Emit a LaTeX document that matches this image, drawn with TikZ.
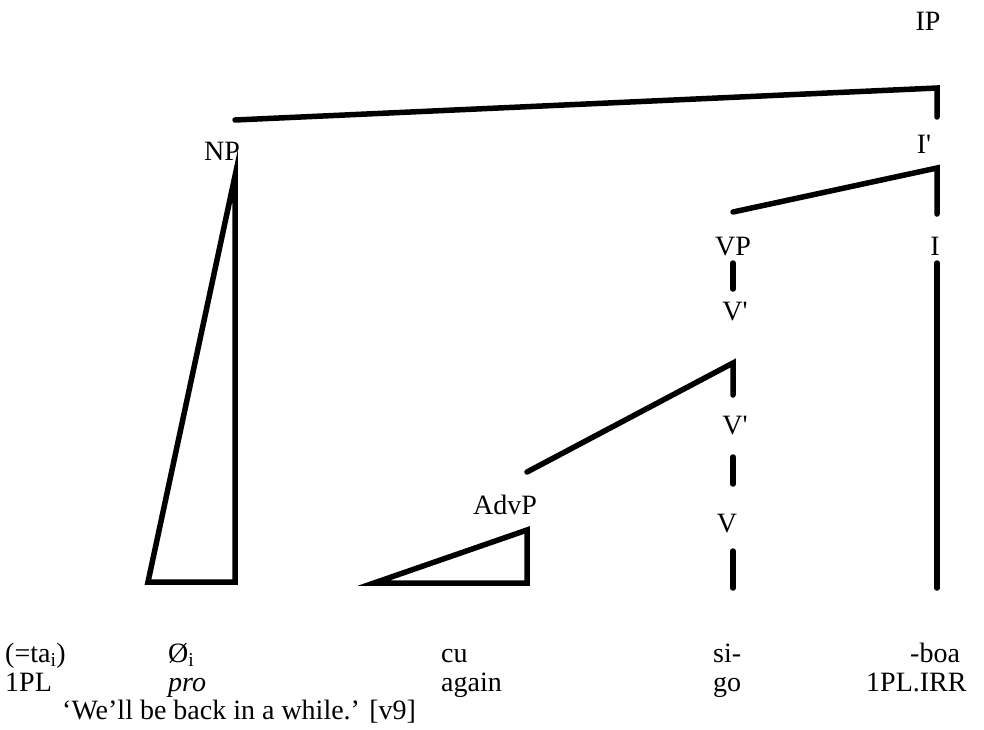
\documentclass[tikz,border=0pt]{standalone}
\usepackage{fontspec}
\setmainfont{Liberation Serif}
\begin{document}
\begin{tikzpicture}[x=1pt, y=-1pt, font=\fontsize{28}{30}\selectfont,
  branch/.style={line width=5.5pt, line cap=round, line join=miter},
  lbl/.style={anchor=base, inner sep=0pt},
  gloss/.style={anchor=base west, inner sep=0pt}]
  \useasboundingbox (0,0) rectangle (984,729);
  % category labels
  \node[lbl] (ip) at (928,30) {IP};
  \node[lbl] (ibar) at (924,153) {I\textquotesingle};
  \node[lbl] (np) at (222,160) {NP};
  \node[lbl] (vp) at (733,255) {VP};
  \node[lbl] (i) at (935,255) {I};
  \node[lbl] (vbar1) at (735,320) {V\textquotesingle};
  \node[lbl] (vbar2) at (735,434) {V\textquotesingle};
  \node[lbl] (v) at (727,532) {V};
  \node[lbl] (advp) at (505,514) {AdvP};
  % branch ends
  \coordinate (ip-top) at (937,88);
  \coordinate (ip-np) at (235,120);
  \coordinate (ip-ibar) at (937,117);
  \coordinate (ibar-top) at (937,168);
  \coordinate (ibar-vp) at (733,212);
  \coordinate (ibar-i) at (937,214);
  \coordinate (i-top) at (937,263);
  \coordinate (i-bot) at (937,588);
  \coordinate (np-top) at (235,176);
  \coordinate (np-l) at (148,582);
  \coordinate (np-r) at (235,582);
  \coordinate (vp-top) at (733,263);
  \coordinate (vp-bot) at (733,289);
  \coordinate (vbar1-top) at (733,363);
  \coordinate (vbar1-adv) at (527,472);
  \coordinate (vbar1-bot) at (733,395);
  \coordinate (vbar2-top) at (733,457);
  \coordinate (vbar2-bot) at (733,484);
  \coordinate (v-top) at (733,551);
  \coordinate (v-bot) at (733,588);
  \coordinate (adv-top) at (527,530);
  \coordinate (adv-l) at (374,583);
  \coordinate (adv-r) at (527,583);
  % branches
  \draw[branch] (ip-np) -- (ip-top) -- (ip-ibar);
  \draw[branch] (ibar-vp) -- (ibar-top) -- (ibar-i);
  \draw[branch] (i-top) -- (i-bot);
  \draw[branch] (np-top) -- (np-l) -- (np-r) -- cycle;
  \draw[branch] (vp-top) -- (vp-bot);
  \draw[branch] (vbar1-adv) -- (vbar1-top) -- (vbar1-bot);
  \draw[branch] (vbar2-top) -- (vbar2-bot);
  \draw[branch] (v-top) -- (v-bot);
  \draw[branch] (adv-l) -- (adv-top) -- (adv-r) -- cycle;
  % words and glosses
  \node[gloss] (w1) at (5,662) {(=ta\textsubscript{i})};
  \node[gloss] (w2) at (168,662) {Ø\textsubscript{i}};
  \node[gloss] (w3) at (441,662) {cu};
  \node[gloss] (w4) at (713,662) {si-};
  \node[gloss] (w5) at (910,662) {-boa};
  \node[gloss] (g1) at (5,691) {1PL};
  \node[gloss] (g2) at (168,691) {\textit{pro}};
  \node[gloss] (g3) at (441,691) {again};
  \node[gloss] (g4) at (713,691) {go};
  \node[gloss] (g5) at (866,691) {1PL.IRR};
  \node[gloss] (tr) at (62,719) {‘We’ll be back in a while.’ [v9]};
\end{tikzpicture}
\end{document}
